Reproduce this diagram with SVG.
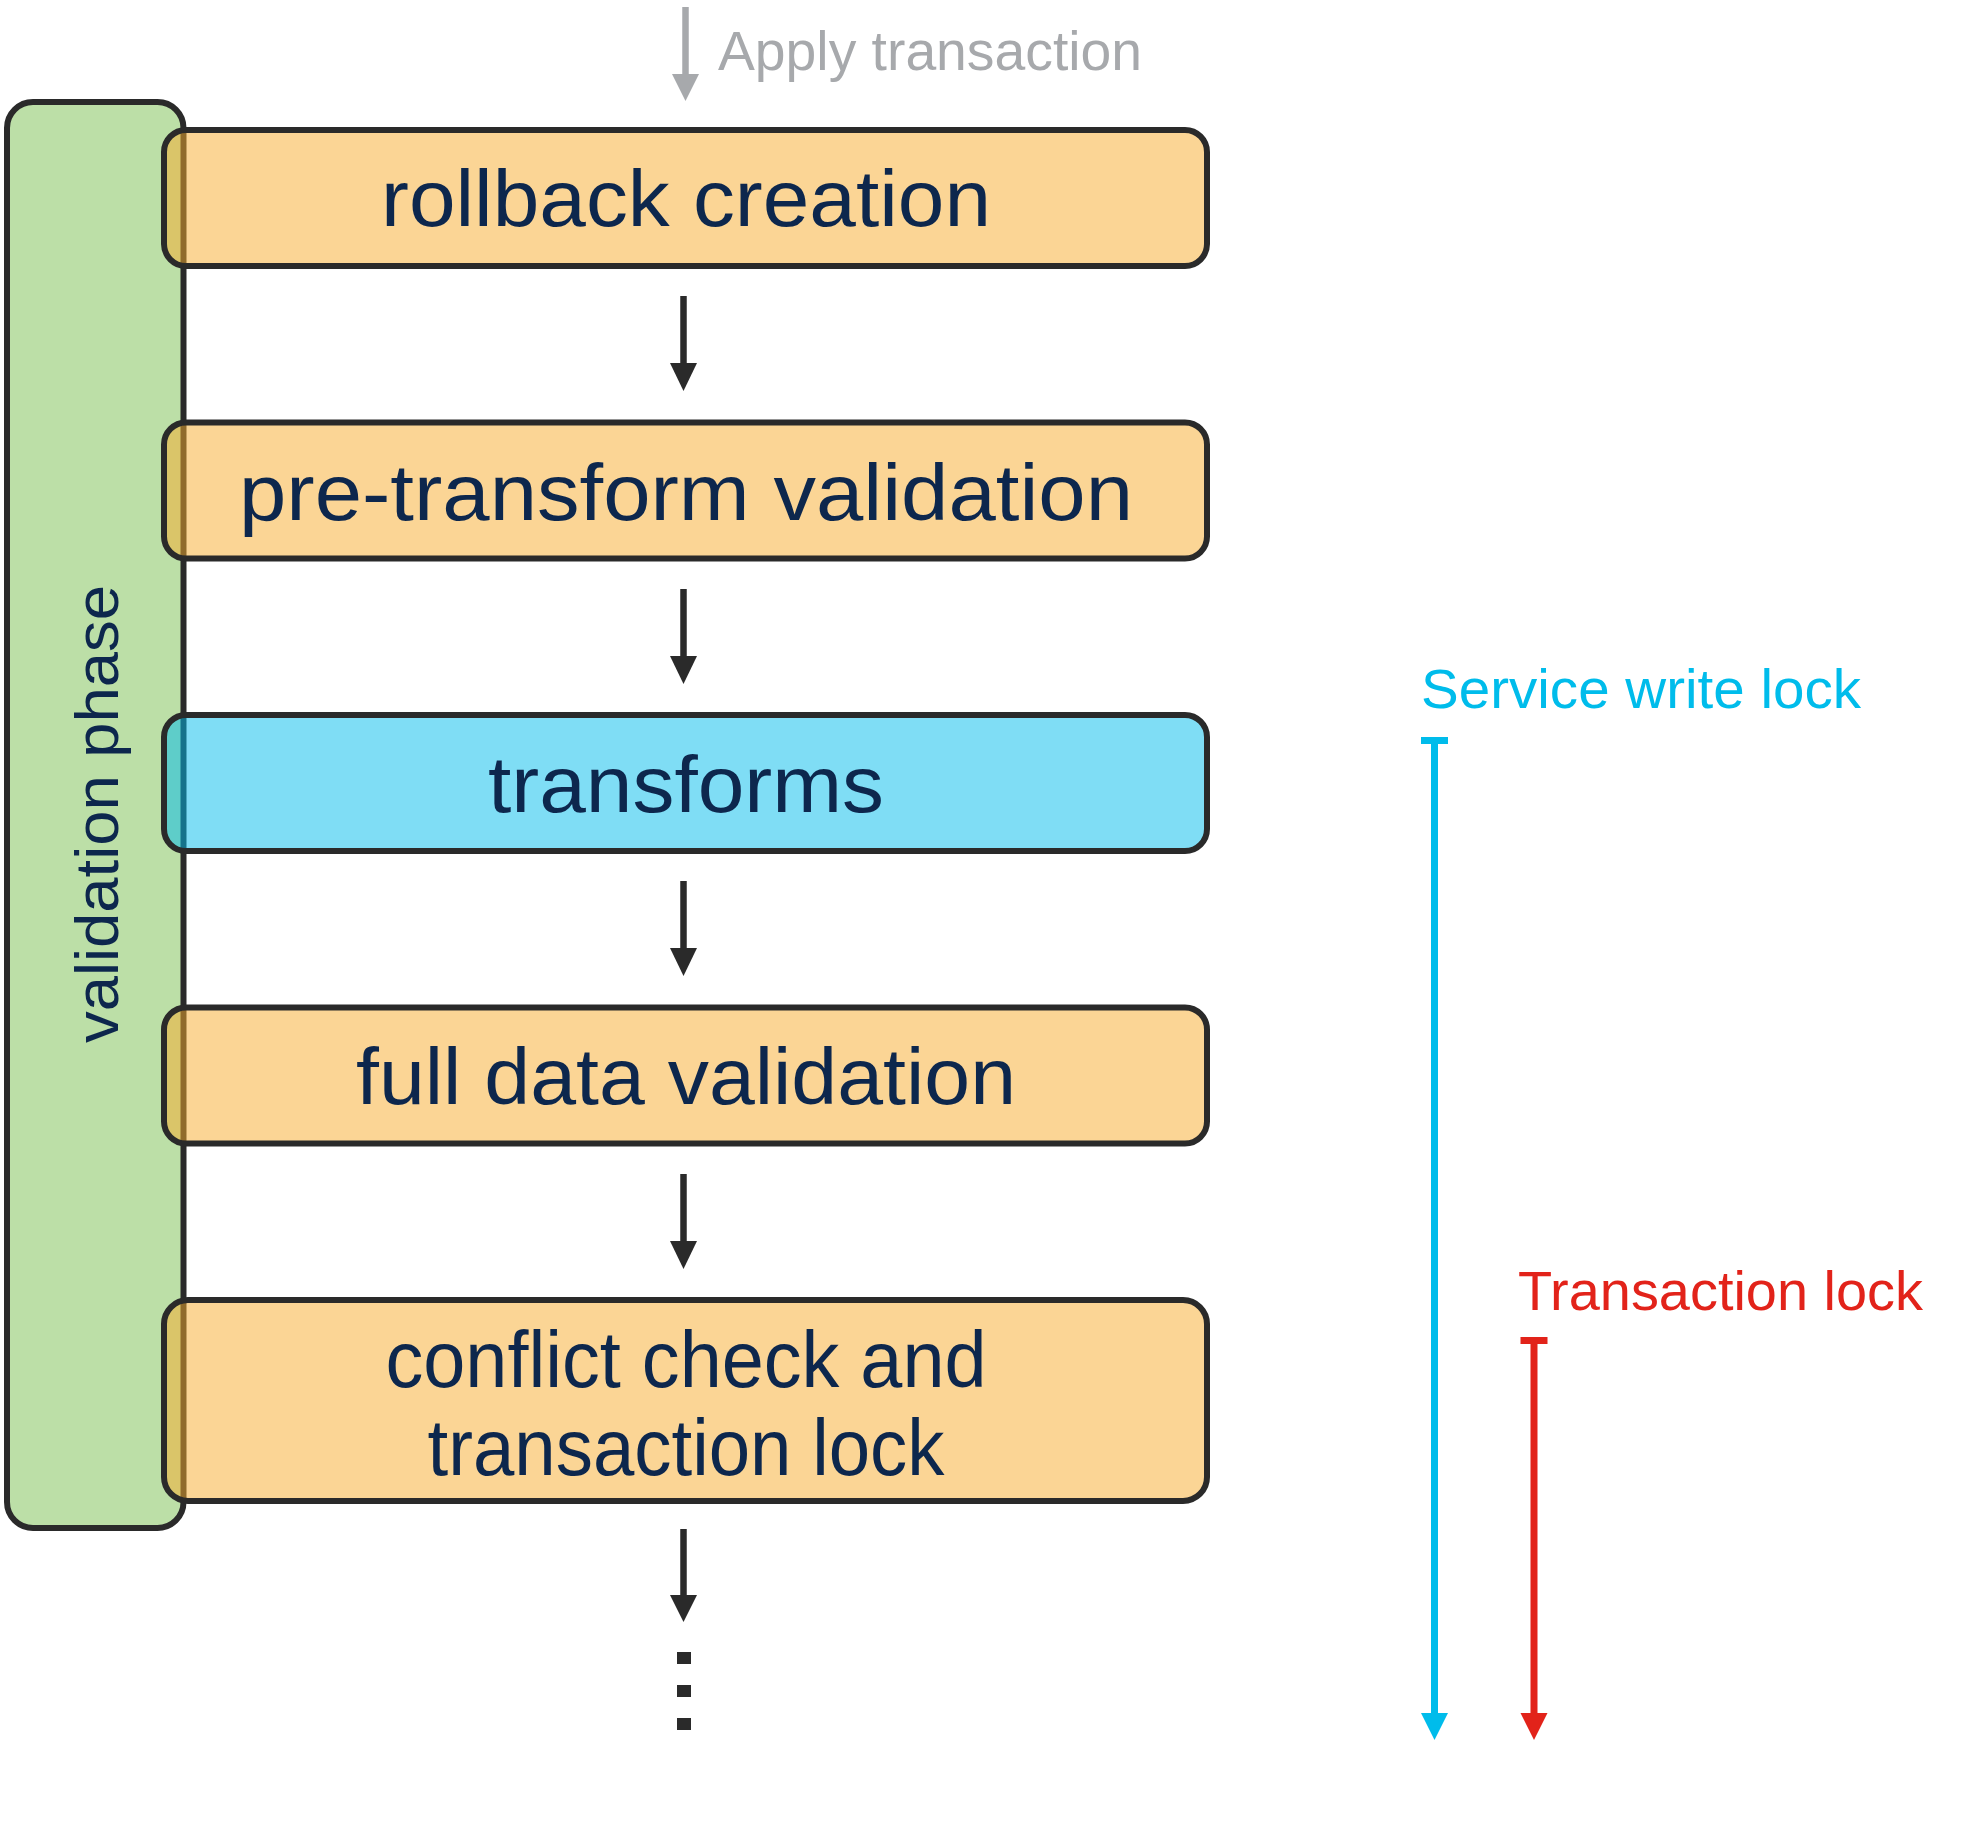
<svg xmlns="http://www.w3.org/2000/svg" width="1961" height="1847" viewBox="0 0 1961 1847">
<style>
.box{stroke:#2a2a2a;stroke-width:6}
.orange{fill:#f8ab2b;fill-opacity:0.5}
.blue{fill:#00bceb;fill-opacity:0.5}
.lbl{font-family:"Liberation Sans",Arial,sans-serif;font-size:80px;fill:#0d274d;text-anchor:middle}
.small{font-family:"Liberation Sans",Arial,sans-serif;font-size:56px}
.conn{stroke:#2a2a2a;stroke-width:6.5;fill:none}
</style>
<rect width="1961" height="1847" fill="#ffffff"/>
<g id="validation-phase">
<rect x="7" y="102" width="176.5" height="1426" rx="26" fill="#bcdfa7" class="box"/>
<text class="lbl" transform="translate(118,814) rotate(-90)" style="font-size:62px" textLength="458" lengthAdjust="spacingAndGlyphs">validation phase</text>
</g>
<g id="rollback-creation">
<rect x="164" y="130" width="1043" height="136" rx="22" class="box orange"/>
<text class="lbl" x="686" y="226" textLength="610" lengthAdjust="spacingAndGlyphs">rollback creation</text>
</g>
<g id="pre-transform-validation">
<rect x="164" y="422.5" width="1043" height="136" rx="22" class="box orange"/>
<text class="lbl" x="686" y="520" textLength="894" lengthAdjust="spacingAndGlyphs">pre-transform validation</text>
</g>
<g id="transforms">
<rect x="164" y="715" width="1043" height="136" rx="22" class="box blue"/>
<text class="lbl" x="686" y="812" textLength="396" lengthAdjust="spacingAndGlyphs">transforms</text>
</g>
<g id="full-data-validation">
<rect x="164" y="1007.5" width="1043" height="136" rx="22" class="box orange"/>
<text class="lbl" x="686" y="1104" textLength="660" lengthAdjust="spacingAndGlyphs">full data validation</text>
</g>
<g id="conflict-check">
<rect x="164" y="1300" width="1043" height="201" rx="24" class="box orange"/>
<text class="lbl" x="686" y="1387" textLength="601" lengthAdjust="spacingAndGlyphs">conflict check and</text>
<text class="lbl" x="686" y="1475" textLength="517" lengthAdjust="spacingAndGlyphs">transaction lock</text>
</g>
<g id="connectors">
<line x1="685.5" y1="7" x2="685.5" y2="76" stroke="#a7a9ac" stroke-width="6.5"/>
<polygon points="672,74 699,74 685.5,101" fill="#a7a9ac"/>
<line class="conn" x1="683.5" y1="296" x2="683.5" y2="365"/>
<polygon points="670,363 697,363 683.5,391" fill="#2a2a2a"/>
<line class="conn" x1="683.5" y1="589" x2="683.5" y2="658"/>
<polygon points="670,656 697,656 683.5,684" fill="#2a2a2a"/>
<line class="conn" x1="683.5" y1="881" x2="683.5" y2="950"/>
<polygon points="670,948 697,948 683.5,976" fill="#2a2a2a"/>
<line class="conn" x1="683.5" y1="1174" x2="683.5" y2="1243"/>
<polygon points="670,1241 697,1241 683.5,1269" fill="#2a2a2a"/>
<line class="conn" x1="683.5" y1="1529" x2="683.5" y2="1597"/>
<polygon points="670,1595 697,1595 683.5,1622" fill="#2a2a2a"/>
<rect x="677" y="1652" width="14" height="12" fill="#2a2a2a"/>
<rect x="677" y="1685" width="14" height="12" fill="#2a2a2a"/>
<rect x="677" y="1718" width="14" height="12" fill="#2a2a2a"/>
</g>
<g id="apply-label">
<text class="small" x="718" y="70" fill="#a7a9ac" textLength="424" lengthAdjust="spacingAndGlyphs">Apply transaction</text>
</g>
<g id="service-write-lock">
<text class="small" x="1421" y="708" fill="#00bceb" textLength="440" lengthAdjust="spacingAndGlyphs">Service write lock</text>
<rect x="1421" y="737" width="27" height="7" fill="#00bceb"/>
<line x1="1434.5" y1="740" x2="1434.5" y2="1716" stroke="#00bceb" stroke-width="7"/>
<polygon points="1421,1713 1448,1713 1434.5,1740" fill="#00bceb"/>
</g>
<g id="transaction-lock">
<text class="small" x="1518" y="1310" fill="#e2231a" textLength="405" lengthAdjust="spacingAndGlyphs">Transaction lock</text>
<rect x="1520.5" y="1337" width="27" height="7" fill="#e2231a"/>
<line x1="1534" y1="1340" x2="1534" y2="1716" stroke="#e2231a" stroke-width="7"/>
<polygon points="1520.5,1713 1547.5,1713 1534,1740" fill="#e2231a"/>
</g>
</svg>
